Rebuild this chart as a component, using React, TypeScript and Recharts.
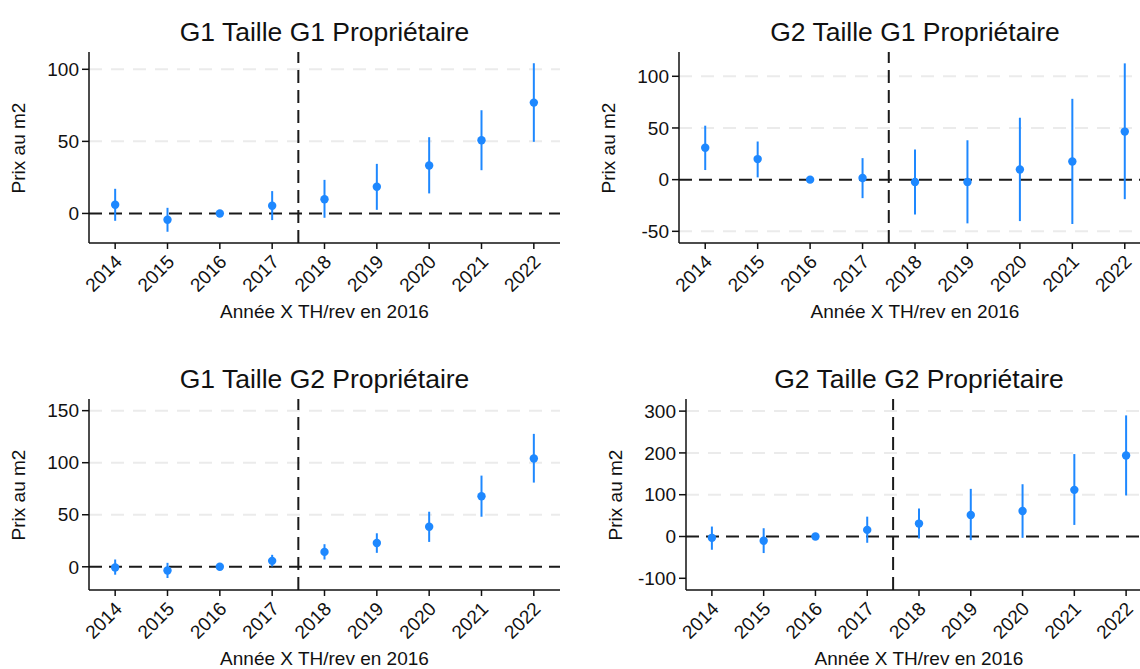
import React from 'react';
import {
  ComposedChart,
  Scatter,
  ErrorBar,
  XAxis,
  YAxis,
  CartesianGrid,
  ReferenceLine,
} from 'recharts';

const years = [2014, 2015, 2016, 2017, 2018, 2019, 2020, 2021, 2022];

const g1g1Coef = [6.0, -4.4, 0, 5.3, 9.9, 18.5, 33.3, 50.8, 76.9];
const g1g1Low = [-5.1, -12.7, 0, -4.6, -3.0, 2.5, 13.9, 30.0, 49.7];
const g1g1High = [17.1, 3.9, 0, 15.5, 23.3, 34.4, 52.9, 71.6, 104.2];

const g2g1Coef = [30.8, 19.9, 0, 1.6, -2.2, -2.2, 9.9, 17.6, 46.5];
const g2g1Low = [9.3, 2.2, 0, -17.9, -33.7, -42.3, -40.1, -42.9, -18.9];
const g2g1High = [52.2, 36.9, 0, 20.8, 29.2, 38.1, 59.9, 78.2, 112.5];

const g1g2Coef = [-0.6, -3.5, 0, 5.7, 14.3, 22.9, 38.5, 67.8, 104.1];
const g1g2Low = [-7.6, -10.8, 0, 0.3, 7.0, 13.4, 23.9, 48.1, 80.9];
const g1g2High = [7.0, 3.8, 0, 11.5, 21.7, 32.2, 52.9, 87.6, 127.7];

const g2g2Coef = [-3.2, -10.3, 0, 15.8, 30.9, 51.5, 61.0, 111.6, 194.0];
const g2g2Low = [-31.7, -39.6, 0, -15.0, -4.8, -8.7, -3.2, 27.7, 98.2];
const g2g2High = [23.8, 19.8, 0, 47.5, 67.3, 114.0, 125.1, 197.2, 289.8];

const g1g1Ticks = [0, 50, 100];
const g2g1Ticks = [-50, 0, 50, 100];
const g1g2Ticks = [0, 50, 100, 150];
const g2g2Ticks = [-100, 0, 100, 200, 300];

const BLUE = '#1e88ff';
const FONT = '"Liberation Sans", Arial, sans-serif';
const xTitle = 'Année X TH/rev en 2016';
const yTitle = 'Prix au m2';

type PanelProps = {
  title: string;
  coef: number[];
  low: number[];
  high: number[];
  domain: [number, number];
  ticks: number[];
  grid: number[];
  left: number;
  top: number;
  plotWidth: number;
};

const PLOT_H = 191;
const Y_W = 89;
const X_H = 90;

// rotated year labels, baseline end sits just right of the tick
const YearTick = (props: any) => {
  const { x, y, payload } = props;
  return (
    <text
      transform={`translate(${x + 8},${y + 10}) rotate(-45)`}
      textAnchor="end"
      fontSize={19}
      fill="#111"
      fontFamily={FONT}
    >
      {payload.value}
    </text>
  );
};

const Dot = (props: any) => <circle cx={props.cx} cy={props.cy} r={4.2} fill={BLUE} />;

const Panel = ({ title, coef, low, high, domain, ticks, grid, left, top, plotWidth }: PanelProps) => {
  const rows = years.map((year, i) => ({
    year,
    coef: coef[i],
    err: [coef[i] - low[i], high[i] - coef[i]],
  }));
  const width = Y_W + plotWidth + 10;
  const plotCenter = left + Y_W + plotWidth / 2;
  return (
    <>
      <div
        style={{
          position: 'absolute',
          left: plotCenter - 250,
          width: 500,
          top: top - 36,
          height: 32,
          lineHeight: '32px',
          textAlign: 'center',
          fontSize: 26.5,
          color: '#111',
        }}
      >
        {title}
      </div>
      <div
        style={{
          position: 'absolute',
          left: left + 19 - 100,
          top: top + PLOT_H / 2 - 12,
          width: 200,
          height: 24,
          lineHeight: '24px',
          textAlign: 'center',
          fontSize: 19,
          color: '#111',
          transform: 'rotate(-90deg)',
        }}
      >
        {yTitle}
      </div>
      <div
        style={{
          position: 'absolute',
          left: plotCenter - 200,
          width: 400,
          top: top + PLOT_H + 57,
          height: 24,
          lineHeight: '24px',
          textAlign: 'center',
          fontSize: 19,
          color: '#111',
        }}
      >
        {xTitle}
      </div>
      <div style={{ position: 'absolute', left, top }}>
        <ComposedChart
          width={width}
          height={PLOT_H + X_H}
          data={rows}
          margin={{ top: 0, right: 10, left: 0, bottom: 0 }}
        >
          <CartesianGrid
            vertical={false}
            horizontalValues={grid}
            stroke="#ebebeb"
            strokeWidth={2}
            strokeDasharray="13 9"
          />
          <XAxis
            dataKey="year"
            type="number"
            domain={[2013.5, 2022.5]}
            ticks={years}
            interval={0}
            height={X_H}
            tickSize={6}
            tickMargin={4}
            tick={<YearTick />}
            axisLine={{ stroke: '#111', strokeWidth: 1.5 }}
            tickLine={{ stroke: '#111', strokeWidth: 1.5 }}
            allowDataOverflow
          />
          <YAxis
            type="number"
            domain={domain}
            ticks={ticks}
            interval={0}
            width={Y_W}
            tickSize={7}
            tickMargin={3}
            tick={{ fontSize: 19, fill: '#111', fontFamily: FONT }}
            axisLine={{ stroke: '#111', strokeWidth: 1.5 }}
            tickLine={{ stroke: '#111', strokeWidth: 1.5 }}
            allowDataOverflow
          />
          <ReferenceLine y={0} stroke="#1a1a1a" strokeWidth={2} strokeDasharray="13 7" />
          <ReferenceLine x={2017.5} stroke="#1a1a1a" strokeWidth={2} strokeDasharray="13 7" />
          <Scatter dataKey="coef" fill={BLUE} shape={<Dot />} isAnimationActive={false}>
            <ErrorBar
              dataKey="err"
              direction="y"
              width={0}
              stroke={BLUE}
              strokeWidth={2}
              isAnimationActive={false}
            />
          </Scatter>
        </ComposedChart>
      </div>
    </>
  );
};

const App = () => {
  return (
    <div
      style={{
        position: 'absolute',
        left: 0,
        top: 0,
        width: 1140,
        height: 669,
        overflow: 'hidden',
        background: '#fff',
        fontFamily: FONT,
      }}
    >
      <Panel
        title="G1 Taille G1 Propriétaire"
        coef={g1g1Coef}
        low={g1g1Low}
        high={g1g1High}
        domain={[-20.5, 112]}
        ticks={g1g1Ticks}
        grid={[50, 100]}
        left={0}
        top={52}
        plotWidth={471}
      />
      <Panel
        title="G2 Taille G1 Propriétaire"
        coef={g2g1Coef}
        low={g2g1Low}
        high={g2g1High}
        domain={[-61.3, 123.5]}
        ticks={g2g1Ticks}
        grid={[-50, 50, 100]}
        left={590}
        top={52}
        plotWidth={472}
      />
      <Panel
        title="G1 Taille G2 Propriétaire"
        coef={g1g2Coef}
        low={g1g2Low}
        high={g1g2High}
        domain={[-22.3, 161.2]}
        ticks={g1g2Ticks}
        grid={[50, 100, 150]}
        left={0}
        top={399}
        plotWidth={471}
      />
      <Panel
        title="G2 Taille G2 Propriétaire"
        coef={g2g2Coef}
        low={g2g2Low}
        high={g2g2High}
        domain={[-128, 329]}
        ticks={g2g2Ticks}
        grid={[100, 200, 300]}
        left={597}
        top={399}
        plotWidth={466}
      />
    </div>
  );
};

export default App;
